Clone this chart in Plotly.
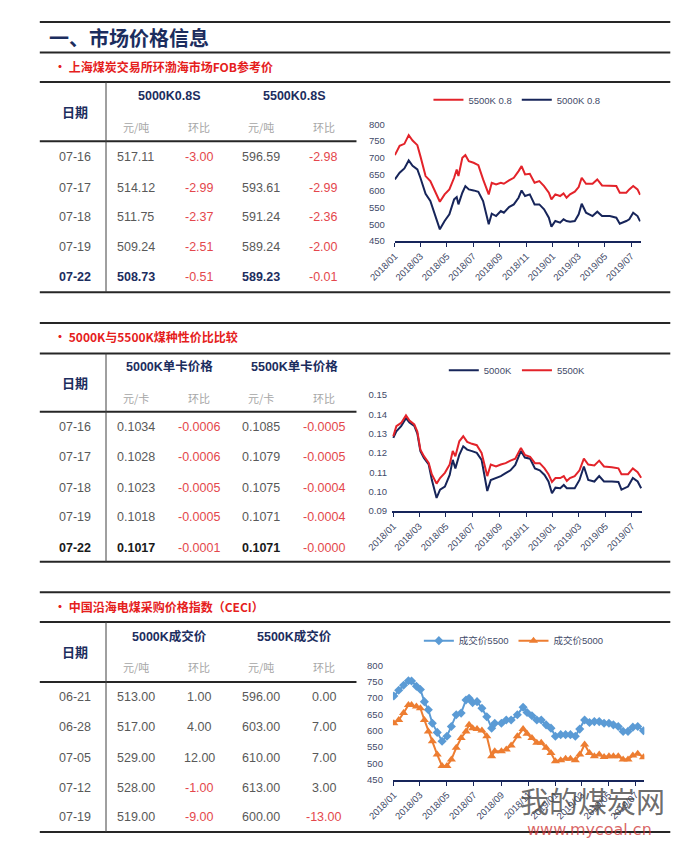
import plotly.graph_objects as go

# page body keeps a default 8px margin, so the figure is sized to fit inside it
PAGE_W, PAGE_H = 685, 853
OFF = 8
W, H = PAGE_W - 2 * OFF, PAGE_H - 2 * OFF

# ------------------------------------------------------------------ data
# Table 1: 上海煤炭交易所环渤海市场FOB参考价
t1_dates = ["07-16", "07-17", "07-18", "07-19", "07-22"]
t1_v5000 = ["517.11", "514.12", "511.75", "509.24", "508.73"]
t1_c5000 = ["-3.00", "-2.99", "-2.37", "-2.51", "-0.51"]
t1_v5500 = ["596.59", "593.61", "591.24", "589.24", "589.23"]
t1_c5500 = ["-2.98", "-2.99", "-2.36", "-2.00", "-0.01"]

# Table 2: 5000K与5500K煤种性价比比较
t2_dates = ["07-16", "07-17", "07-18", "07-19", "07-22"]
t2_v5000 = ["0.1034", "0.1028", "0.1023", "0.1018", "0.1017"]
t2_c5000 = ["-0.0006", "-0.0006", "-0.0005", "-0.0005", "-0.0001"]
t2_v5500 = ["0.1085", "0.1079", "0.1075", "0.1071", "0.1071"]
t2_c5500 = ["-0.0005", "-0.0005", "-0.0004", "-0.0004", "-0.0000"]

# Table 3: CECI
t3_dates = ["06-21", "06-28", "07-05", "07-12", "07-19"]
t3_v5000 = ["513.00", "517.00", "529.00", "528.00", "519.00"]
t3_c5000 = ["1.00", "4.00", "12.00", "-1.00", "-9.00"]
t3_v5500 = ["596.00", "603.00", "610.00", "613.00", "600.00"]
t3_c5500 = ["0.00", "7.00", "7.00", "3.00", "-13.00"]

# Chart 1: FOB reference price
c1_dates = ["2018-01-01", "2018-01-12", "2018-01-23", "2018-02-02", "2018-02-11", "2018-02-22",
            "2018-03-01", "2018-03-13", "2018-03-24", "2018-04-04", "2018-04-15", "2018-04-26",
            "2018-05-07", "2018-05-18", "2018-05-24", "2018-05-28", "2018-06-06", "2018-06-13",
            "2018-06-21", "2018-07-02", "2018-07-13", "2018-07-24", "2018-08-01", "2018-08-06",
            "2018-08-13", "2018-08-23", "2018-09-03", "2018-09-10", "2018-09-22", "2018-10-03",
            "2018-10-14", "2018-10-21", "2018-10-29", "2018-11-09", "2018-11-20", "2018-12-01",
            "2018-12-12", "2018-12-23", "2018-12-29", "2019-01-07", "2019-01-18", "2019-01-26",
            "2019-02-02", "2019-02-10", "2019-02-21", "2019-03-02", "2019-03-09", "2019-03-19",
            "2019-04-03", "2019-04-14", "2019-04-25", "2019-05-13", "2019-05-28", "2019-06-05",
            "2019-06-20", "2019-06-27", "2019-07-06", "2019-07-16", "2019-07-22"]
c1_5500 = [708, 736, 742, 768, 752, 738, 705, 645, 630, 600, 568, 590, 605, 640, 665, 645, 700, 708,
           690, 685, 678, 635, 605, 590, 625, 620, 625, 622, 632, 640, 660, 675, 650, 652, 625, 630,
           615, 595, 575, 590, 585, 593, 580, 590, 598, 612, 640, 622, 622, 635, 617, 617, 615, 595,
           595, 605, 615, 605, 589]
c1_5000 = [635, 655, 668, 692, 676, 665, 640, 592, 570, 530, 485, 510, 530, 575, 582, 560, 595, 615,
           605, 602, 598, 570, 530, 500, 532, 525, 540, 535, 552, 560, 580, 602, 585, 590, 560, 560,
           545, 520, 493, 510, 505, 515, 510, 508, 510, 530, 562, 535, 525, 538, 525, 525, 520, 502,
           510, 515, 535, 525, 509]

# Chart 2: price per kcal
c2_dates = ["2018-01-01", "2018-01-08", "2018-01-19", "2018-01-30", "2018-02-07", "2018-02-18",
            "2018-02-25", "2018-03-04", "2018-03-12", "2018-03-23", "2018-03-30", "2018-04-10",
            "2018-04-18", "2018-04-29", "2018-05-10", "2018-05-17", "2018-05-23", "2018-06-01",
            "2018-06-10", "2018-06-19", "2018-06-30", "2018-07-11", "2018-07-22", "2018-07-30",
            "2018-08-04", "2018-08-12", "2018-08-24", "2018-09-04", "2018-09-15", "2018-09-26",
            "2018-10-07", "2018-10-20", "2018-10-29", "2018-11-10", "2018-11-21", "2018-12-02",
            "2018-12-13", "2018-12-22", "2018-12-30", "2019-01-07", "2019-01-18", "2019-01-26",
            "2019-02-02", "2019-02-09", "2019-02-20", "2019-03-03", "2019-03-13", "2019-03-23",
            "2019-04-06", "2019-04-17", "2019-04-28", "2019-05-16", "2019-05-31", "2019-06-07",
            "2019-06-22", "2019-07-03", "2019-07-14", "2019-07-22"]
c2_5000 = [0.1278, 0.1312, 0.1338, 0.1380, 0.1357, 0.1340, 0.1300, 0.1209, 0.1174, 0.1140,
           0.1062, 0.0967, 0.1010, 0.1026, 0.1086, 0.1164, 0.1120, 0.1190, 0.1234, 0.1217,
           0.1209, 0.1200, 0.1164, 0.1070, 0.1003, 0.1060, 0.1070, 0.1080, 0.1095, 0.1110,
           0.1138, 0.1210, 0.1176, 0.1170, 0.1120, 0.1110, 0.1086, 0.1052, 0.0991, 0.1020,
           0.1017, 0.1034, 0.1017, 0.1017, 0.1017, 0.1060, 0.1130, 0.1060, 0.1052, 0.1080,
           0.1052, 0.1052, 0.1050, 0.1010, 0.1026, 0.1070, 0.1052, 0.1017]
c2_5500 = [0.1286, 0.1338, 0.1355, 0.1394, 0.1367, 0.1347, 0.1310, 0.1217, 0.1183, 0.1148,
           0.1090, 0.1041, 0.1070, 0.1097, 0.1140, 0.1210, 0.1183, 0.1260, 0.1286, 0.1257,
           0.1247, 0.1240, 0.1200, 0.1130, 0.1080, 0.1140, 0.1130, 0.1140, 0.1147, 0.1160,
           0.1170, 0.1226, 0.1190, 0.1180, 0.1147, 0.1147, 0.1120, 0.1090, 0.1050, 0.1070,
           0.1070, 0.1080, 0.1055, 0.1070, 0.1080, 0.1110, 0.1170, 0.1140, 0.1135, 0.1160,
           0.1130, 0.1126, 0.1120, 0.1090, 0.1090, 0.1120, 0.1100, 0.1071]

# Chart 3: CECI transaction price
c3_dates = ["2018-01-01", "2018-01-12", "2018-01-23", "2018-02-03", "2018-02-10", "2018-02-21",
            "2018-03-02", "2018-03-11", "2018-03-20", "2018-03-29", "2018-04-09", "2018-04-20",
            "2018-05-01", "2018-05-11", "2018-05-22", "2018-06-02", "2018-06-13", "2018-06-20",
            "2018-06-28", "2018-07-08", "2018-07-19", "2018-07-30", "2018-08-10", "2018-08-17",
            "2018-09-01", "2018-09-12", "2018-09-23", "2018-10-07", "2018-10-20", "2018-10-29",
            "2018-11-09", "2018-11-20", "2018-11-30", "2018-12-11", "2018-12-22", "2019-01-01",
            "2019-01-13", "2019-01-24", "2019-02-04", "2019-02-15", "2019-02-25", "2019-03-08",
            "2019-03-19", "2019-03-30", "2019-04-10", "2019-04-21", "2019-05-02", "2019-05-12",
            "2019-05-23", "2019-06-03", "2019-06-14", "2019-06-25", "2019-07-06", "2019-07-19"]
c3_5500 = [706, 724, 739, 753, 752, 736, 726, 689, 664, 623, 595, 568, 583, 613, 649, 654, 694, 699,
           686, 689, 669, 643, 608, 623, 623, 633, 633, 649, 672, 656, 646, 633, 633, 618, 608, 583,
           588, 588, 588, 583, 605, 633, 625, 628, 628, 623, 623, 618, 613, 598, 598, 611, 613, 600]
c3_5000 = [623, 633, 654, 679, 679, 674, 669, 633, 598, 568, 527, 492, 492, 512, 548, 578, 598, 618,
           608, 605, 601, 583, 522, 537, 537, 543, 555, 583, 605, 591, 578, 563, 563, 548, 532, 507,
           510, 514, 514, 510, 527, 558, 532, 522, 527, 520, 522, 522, 522, 512, 512, 524, 530, 519]

# ------------------------------------------------------------------ style
NAVY = "#1c2d5e"
LINE_NAVY = "#17255a"
LINE_RED = "#e3232a"
BLUE = "#5b9bd5"
ORANGE = "#ed7d31"
TXT = "#595959"
RED_TXT = "#e4474c"
SUB = "#a6a6a6"
AXTXT = "#3f4a68"
CJK = "Noto Sans CJK SC"
NUM = "Liberation Sans, Noto Sans CJK SC"


def px(x):
    return (x - OFF) / W


def py(y):
    return 1 - (y - OFF) / H


fig = go.Figure()

# ------------------------------------------------------------------ traces
fig.add_trace(go.Scatter(x=c1_dates, y=c1_5500, name="5500K 0.8", mode="lines",
                         line=dict(color=LINE_RED, width=2), xaxis="x", yaxis="y", legend="legend"))
fig.add_trace(go.Scatter(x=c1_dates, y=c1_5000, name="5000K 0.8", mode="lines",
                         line=dict(color=LINE_NAVY, width=2), xaxis="x", yaxis="y", legend="legend"))
fig.add_trace(go.Scatter(x=c2_dates, y=c2_5000, name="5000K", mode="lines",
                         line=dict(color=LINE_NAVY, width=2), xaxis="x2", yaxis="y2", legend="legend2"))
fig.add_trace(go.Scatter(x=c2_dates, y=c2_5500, name="5500K", mode="lines",
                         line=dict(color=LINE_RED, width=2), xaxis="x2", yaxis="y2", legend="legend2"))
fig.add_trace(go.Scatter(x=c3_dates, y=c3_5500, name="成交价5500", mode="lines+markers",
                         line=dict(color=BLUE, width=2), marker=dict(symbol="diamond", size=7, color=BLUE),
                         xaxis="x3", yaxis="y3", legend="legend3"))
fig.add_trace(go.Scatter(x=c3_dates, y=c3_5000, name="成交价5000", mode="lines+markers",
                         line=dict(color=ORANGE, width=2), marker=dict(symbol="triangle-up", size=8, color=ORANGE),
                         xaxis="x3", yaxis="y3", legend="legend3"))

# ------------------------------------------------------------------ axes


def xax(x0, x1, rng, anchor):
    return dict(domain=[px(x0), px(x1)], anchor=anchor, type="date", range=rng,
                tick0="2018-01-01", dtick="M2", tickformat="%Y/%m", tickangle=-45,
                showline=True, linecolor=LINE_NAVY, linewidth=2, ticks="outside", ticklen=4,
                tickcolor=LINE_NAVY, showgrid=False, zeroline=False,
                tickfont=dict(size=9.5, color=AXTXT, family=NUM))


def yax(ytop, ybot, rng, dtick, fmt, anchor, standoff):
    return dict(domain=[py(ybot), py(ytop)], anchor=anchor, range=rng, dtick=dtick, tickformat=fmt,
                showgrid=False, zeroline=False, showline=False, ticks="",
                ticklabelstandoff=standoff,
                tickfont=dict(size=9.5, color=AXTXT, family=NUM))


fig.update_layout(
    xaxis=xax(383, 639, ["2018-01-01", "2019-07-23"], "y"),
    yaxis=yax(120, 238, [450, 800], 50, "d", "x", 9),
    xaxis2=xax(380, 641, ["2017-12-29", "2019-07-25"], "y2"),
    yaxis2=yax(394, 511.5, [0.09, 0.15], 0.01, ".2f", "x2", 4),
    xaxis3=xax(381, 643, ["2017-12-30", "2019-07-21"], "y3"),
    yaxis3=yax(668, 784, [450, 800], 50, "d", "x3", 9),
)

leg_common = dict(orientation="h", xanchor="left", yanchor="middle", bgcolor="rgba(0,0,0,0)",
                  font=dict(size=9.5, color=AXTXT, family=NUM), itemwidth=30, tracegroupgap=0)
fig.update_layout(
    legend=dict(leg_common, x=px(418), y=py(95)),
    legend2=dict(leg_common, x=px(434), y=py(369)),
    legend3=dict(leg_common, x=px(408), y=py(643)),
)

# ------------------------------------------------------------------ rules
shapes = []


def hline(y, x0=13, x1=670, w=2, c="#262626"):
    shapes.append(dict(type="line", xref="paper", yref="paper", x0=px(x0), x1=px(x1),
                       y0=py(y), y1=py(y), line=dict(color=c, width=w)))


def vline(x, y0, y1, w=1, c="#404040"):
    shapes.append(dict(type="line", xref="paper", yref="paper", x0=px(x), x1=px(x),
                       y0=py(y0), y1=py(y1), line=dict(color=c, width=w)))


for y in [16, 47, 77, 290, 321, 352, 563, 594, 624, 837]:
    hline(y)
for y in [137, 411, 685]:
    hline(y, 13, 343)
vline(82, 77, 290)
vline(82, 352, 563)
vline(82, 624, 837)

# ------------------------------------------------------------------ texts
ann = []


def text(t, x, y, size=12, color=TXT, family=NUM, xanchor="center", bold=False):
    if bold:
        t = "<b>" + t + "</b>"
    ann.append(dict(text=t, x=px(x), y=py(y), xref="paper", yref="paper", showarrow=False,
                    xanchor=xanchor, yanchor="middle", font=dict(size=size, color=color, family=family)))


text("一、市场价格信息", 21, 32, size=20, color=NAVY, family=CJK, xanchor="left", bold=True)
text("• 上海煤炭交易所环渤海市场FOB参考价", 26, 61, size=12, color="#e5201c", family=CJK,
     xanchor="left", bold=True)
text("• 5000K与5500K煤种性价比比较", 26, 335, size=12, color="#e5201c", family=CJK,
     xanchor="left", bold=True)
text("• 中国沿海电煤采购价格指数（CECI）", 26, 608, size=12, color="#e5201c", family=CJK,
     xanchor="left", bold=True)

COLS = [50, 113, 179, 244, 309]


def table(hdr_y, date_y, sub_y, rows_y, heads, unit, dates, v1, c1, v2, c2, last_bold_color):
    text("日期", COLS[0], date_y, size=13, color=NAVY, family=CJK, bold=True)
    text(heads[0], 148, hdr_y, size=12.5, color=NAVY, family=NUM, bold=True)
    text(heads[1], 278, hdr_y, size=12.5, color=NAVY, family=NUM, bold=True)
    for cx, t in zip(COLS[1:], [unit, "环比", unit, "环比"]):
        text(t, cx, sub_y, size=11, color=SUB, family=CJK)
    n = len(dates)
    for i in range(n):
        y = rows_y[i]
        last = (i == n - 1) and last_bold_color is not None
        base_col = last_bold_color if last else TXT
        text(dates[i], COLS[0], y, size=12.5, color=base_col, bold=last)
        text(v1[i], COLS[1], y, size=12.5, color=base_col, bold=last)
        text(c1[i], COLS[2], y, size=12.5, color=RED_TXT if c1[i].startswith("-") else TXT)
        text(v2[i], COLS[3], y, size=12.5, color=base_col, bold=last)
        text(c2[i], COLS[4], y, size=12.5, color=RED_TXT if c2[i].startswith("-") else TXT)


table(91, 107, 123, [153, 184, 214, 244, 275], ["5000K0.8S", "5500K0.8S"], "元/吨",
      t1_dates, t1_v5000, t1_c5000, t1_v5500, t1_c5500, NAVY)
table(365, 381, 397, [427, 457, 488, 518, 549], ["5000K单卡价格", "5500K单卡价格"], "元/卡",
      t2_dates, t2_v5000, t2_c5000, t2_v5500, t2_c5500, "#1a1a1a")
table(639, 654, 670, [700, 731, 762, 792, 822], ["5000K成交价", "5500K成交价"], "元/吨",
      t3_dates, t3_v5000, t3_c5000, t3_v5500, t3_c5500, None)

# watermark
text("我的煤炭网", 589, 804, size=29, color="rgba(70,70,70,0.8)", family=CJK)
text("www.mycoal.cn", 586, 834, size=16, color="rgba(205,50,50,0.75)", family="DejaVu Sans")

fig.update_layout(
    width=W, height=H, margin=dict(l=0, r=0, t=0, b=0),
    paper_bgcolor="white", plot_bgcolor="white",
    shapes=shapes, annotations=ann, showlegend=True,
    font=dict(family=NUM),
)

fig.write_html("out.html")
